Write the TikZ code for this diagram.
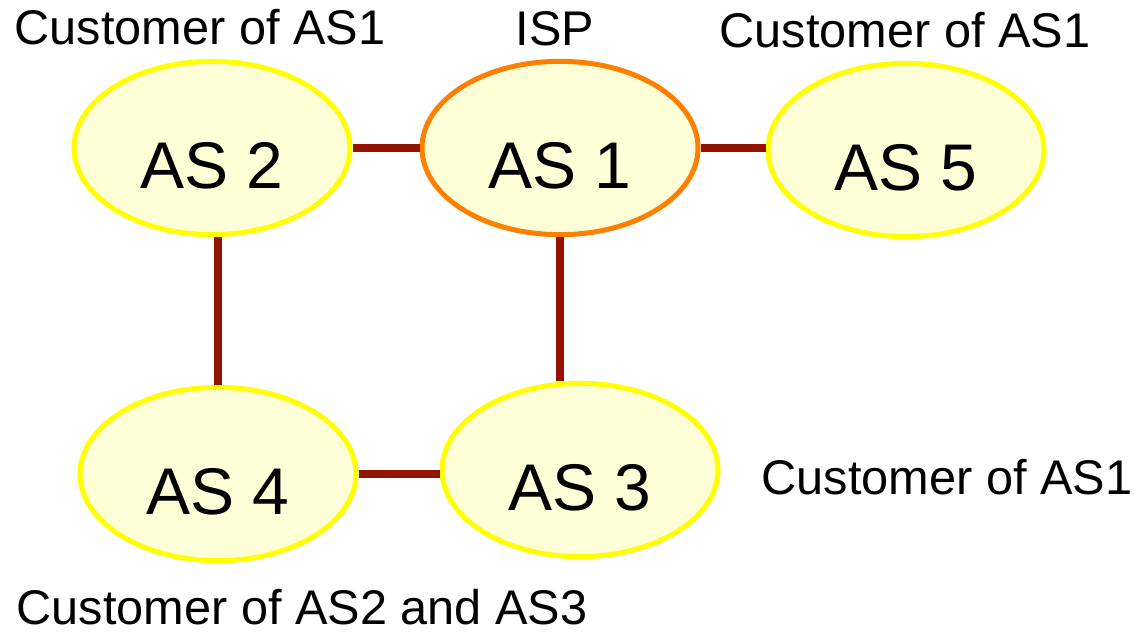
\documentclass[tikz,border=0pt]{standalone}
\usepackage{fontspec}
\setmainfont{Liberation Sans}
\usepackage{xcolor}
\usepackage{tikz}
\usetikzlibrary{shapes,calc}

\definecolor{asfill}{RGB}{255,255,215}
\definecolor{asyellow}{RGB}{255,255,0}
\definecolor{asorange}{RGB}{255,128,0}
\definecolor{linkred}{RGB}{148,18,0}

\begin{document}
\begin{tikzpicture}[
  x=0.75pt, y=-0.75pt,
  asnode/.style={ellipse, draw=asyellow, fill=asfill, line width=3.75pt, minimum width=207pt, minimum height=130pt, inner sep=0pt, outer sep=1.875pt, font=\fontsize{49.5}{59}\selectfont, text height=61pt, text depth=0pt},
  ispnode/.style={asnode, draw=asorange},
  tag/.style={anchor=base, inner sep=0pt, font=\fontsize{36.5}{44}\selectfont},
  link/.style={draw=linkred, line width=6pt}
]
\useasboundingbox (0,0) rectangle (1135,634);

\node[asnode]  (as2) at (212,148) {AS 2};
\node[ispnode] (as1) at (560,148) {AS 1};
\node[asnode]  (as5) at (906,150) {AS 5};
\node[asnode]  (as4) at (218,474) {AS 4};
\node[asnode]  (as3) at (580,470) {AS 3};

\node[tag] (cust2) at (200,45) {Customer of AS1};
\node[tag] (isp)   at (555,46) {ISP};
\node[tag] (cust5) at (905,48) {Customer of AS1};
\node[tag] (cust3) at (947,494) {Customer of AS1};
\node[tag] (cust4) at (302,624) {Customer of AS2 and AS3};

\draw[link] (as2.east) -- (as1.west);
\draw[link] (as1.east) -- (as1.east -| as5.west);
\draw[link] (as4.north) -- (as4.north |- as2.south);
\draw[link] (as1.south) -- (as1.south |- as3.north);
\draw[link] (as4.east) -- (as4.east -| as3.west);

\end{tikzpicture}
\end{document}
